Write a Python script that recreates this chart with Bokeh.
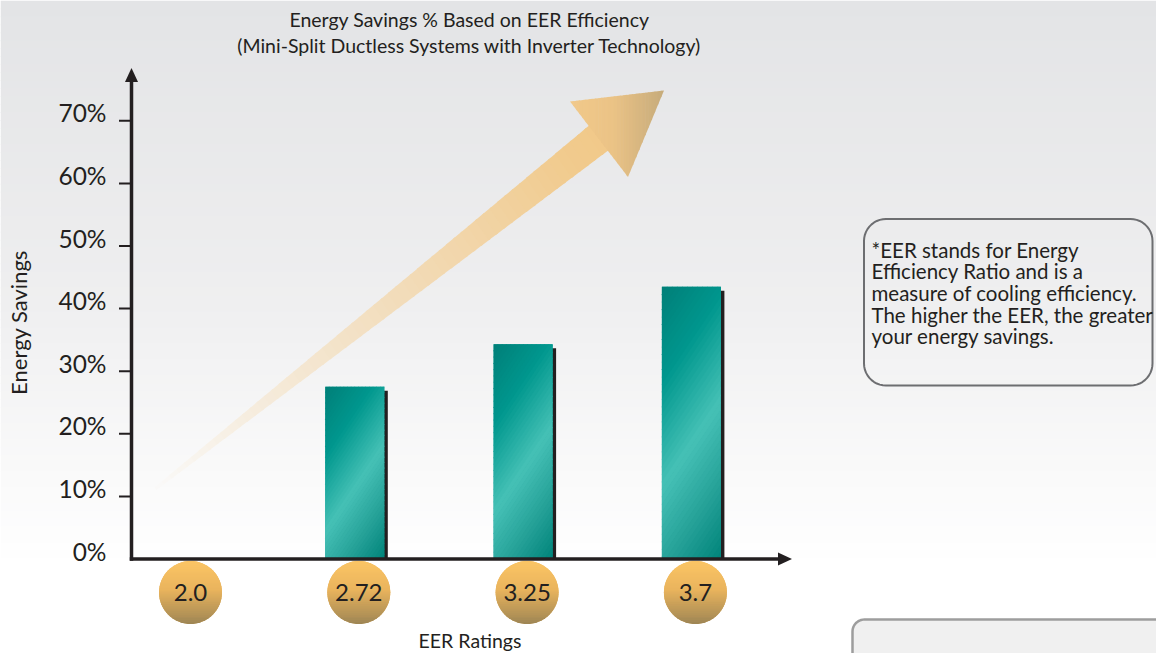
import numpy as np
from bokeh.plotting import figure
from bokeh.models import Range1d
from bokeh.core.properties import value
from bokeh.embed import file_html
from bokeh.resources import INLINE

# ---------------- data ----------------
eer_ratings = ["2.0", "2.72", "3.25", "3.7"]
energy_savings = [0.0, 27.5, 34.3, 43.5]          # percent
y_ticks = [0, 10, 20, 30, 40, 50, 60, 70]
y_tick_labels = ["0%", "10%", "20%", "30%", "40%", "50%", "60%", "70%"]
title_lines = ["Energy Savings % Based on EER Efficiency",
               "(Mini-Split Ductless Systems with Inverter Technology)"]
note_lines = ["*EER stands for Energy",
              "Efficiency Ratio and is a",
              "measure of cooling efficiency.",
              "The higher the EER, the greater",
              "your energy savings."]
x_label = "EER Ratings"
y_label = "Energy Savings"

# ---------------- layout helpers (screen px) ----------------
W, H = 1156, 653
CX0 = 186.0     # screen x of first category
CDX = 168.3     # px per category
Y0 = 558.5      # screen y of 0 %
PPY = 6.26      # px per percent


def X(sx):
    return (sx - CX0) / CDX


def Y(sy):
    return (Y0 - sy) / PPY


def SX(x):
    return CX0 + x * CDX


def SY(y):
    return Y0 - y * PPY


def h2r(h):
    h = h.lstrip("#")
    return np.array([int(h[i:i + 2], 16) for i in (0, 2, 4)], float)


def r2h(c):
    c = np.clip(np.round(c), 0, 255).astype(int)
    return "#%02x%02x%02x" % tuple(c)


def grad(stops, t):
    t = min(max(t, 0.0), 1.0)
    for (t0, c0), (t1, c1) in zip(stops[:-1], stops[1:]):
        if t <= t1:
            f = 0 if t1 == t0 else (t - t0) / (t1 - t0)
            return h2r(c0) * (1 - f) + h2r(c1) * f
    return h2r(stops[-1][1])


BG_STOPS = [(0.0, "#e3e4e6"), (0.5, "#eeeeef"), (1.0, "#ffffff")]


def bg(sy):
    return grad(BG_STOPS, sy / 565.0)


def clip(poly, a, b, c):
    out = []
    n = len(poly)
    for i in range(n):
        P = poly[i]
        Q = poly[(i + 1) % n]
        fp = a * P[0] + b * P[1] - c
        fq = a * Q[0] + b * Q[1] - c
        if fp <= 0:
            out.append(P)
        if (fp <= 0) != (fq <= 0):
            t = fp / (fp - fq)
            out.append((P[0] + t * (Q[0] - P[0]), P[1] + t * (Q[1] - P[1])))
    return out


def grad_fill(poly, d, stops, n, xs, ys, cols):
    proj = [p[0] * d[0] + p[1] * d[1] for p in poly]
    lo, hi = min(proj), max(proj)
    for k in range(n):
        a = lo + (hi - lo) * k / n
        b = lo + (hi - lo) * (k + 1) / n
        pg = clip(poly, d[0], d[1], b + (0.6 if k < n - 1 else 0))
        pg = clip(pg, -d[0], -d[1], -a)
        if len(pg) < 3:
            continue
        xs.append([X(p[0]) for p in pg])
        ys.append([Y(p[1]) for p in pg])
        cols.append(r2h(grad(stops, (k + 0.5) / n)))


def rrect(x0, y0, x1, y1, r, n=12):
    pts = []
    for cx, cy, a0, a1 in [(x1 - r, y0 + r, -90, 0), (x1 - r, y1 - r, 0, 90),
                           (x0 + r, y1 - r, 90, 180), (x0 + r, y0 + r, 180, 270)]:
        for a in np.linspace(np.radians(a0), np.radians(a1), n):
            pts.append((cx + r * np.cos(a), cy + r * np.sin(a)))
    return pts


FONT = value("Lato")
INK = "#231f20"

p = figure(width=W, height=H, x_range=Range1d(X(0), X(W)), y_range=Range1d(Y(H), Y(0)),
           output_backend="svg", toolbar_location=None, tools="",
           x_axis_type=None, y_axis_type=None, min_border=0)
p.outline_line_color = None
p.grid.visible = False
p.background_fill_color = "#ffffff"
p.border_fill_color = "#ffffff"

# ---------------- background gradient ----------------
edges = np.linspace(0, 566, 72)
p.quad(left=[X(0)] * 71, right=[X(W)] * 71,
       top=[Y(e) for e in edges[:-1]], bottom=[Y(e + 0.8) for e in edges[1:]],
       fill_color=[r2h(bg((a + b) / 2)) for a, b in zip(edges[:-1], edges[1:])],
       line_color=None)

# ---------------- rising arrow ----------------
U0, U1 = np.array([154.0, 487.0]), np.array([591.0, 123.0])
L0, L1 = np.array([156.0, 489.5]), np.array([609.0, 149.0])
ax_, ay_, ac_ = [], [], []
NS = 60
for k in range(NS):
    s0 = k / NS
    s1 = min((k + 1) / NS + 0.004, 1.0)
    quad_ = [U0 + s0 * (U1 - U0), U0 + s1 * (U1 - U0), L0 + s1 * (L1 - L0), L0 + s0 * (L1 - L0)]
    sm = (s0 + s1) / 2
    cy = (quad_[0][1] + quad_[3][1]) / 2
    col = h2r("#f7dfb9") * (1 - sm) + h2r("#f1c98a") * sm
    alpha = min(1.0, sm ** 0.75 * 1.05)
    ax_.append([X(q[0]) for q in quad_])
    ay_.append([Y(q[1]) for q in quad_])
    ac_.append(r2h(bg(cy) * (1 - alpha) + col * alpha))
p.patches(ax_, ay_, fill_color=ac_, line_color=None)

head = [(569.5, 101.0), (663.5, 90.0), (627.5, 176.5)]
hx, hy, hc = [], [], []
grad_fill(head, (1.0, 0.0), [(0.0, "#f1c98a"), (0.45, "#ebc386"), (1.0, "#c6ab7b")], 30, hx, hy, hc)
p.patches(hx, hy, fill_color=hc, line_color=None)

# ---------------- bars ----------------
idx = list(range(len(eer_ratings)))
BW = 59.0
p.vbar(x=[i + 3.5 / CDX for i in idx], top=[max(v - 4.0 / PPY, 0) for v in energy_savings],
       bottom=0, width=BW / CDX, fill_color=INK, line_color=None)
p.vbar(x=idx, top=energy_savings, bottom=0, width=BW / CDX, fill_color="#009a90", line_color=None)

BAR_STOPS = [(0.0, "#007f78"), (0.27, "#00978e"), (0.56, "#46c1b6"), (0.8, "#239f96"), (1.0, "#00847a")]
bx, by, bc = [], [], []
for i, v in zip(idx, energy_savings):
    if v <= 0:
        continue
    l, r = SX(i) - BW / 2, SX(i) + BW / 2
    t, b = SY(v), SY(0)
    grad_fill([(l, t), (r, t), (r, b), (l, b)], (0.83, 0.56), BAR_STOPS, 48, bx, by, bc)
p.patches(bx, by, fill_color=bc, line_color=None)

# ---------------- rating discs ----------------
DOFF, DY, DR = 4.0, 592.0, 31.5
p.circle(x=[i + DOFF / CDX for i in idx], y=[Y(DY)] * len(idx), radius=DR / CDX,
         fill_color="#e6b25d", line_color=None)
DISC_STOPS = [(0.0, "#fbc565"), (0.45, "#eab45d"), (1.0, "#9d8554")]
cx_, cy_, cc_ = [], [], []
for i in idx:
    ccx = SX(i) + DOFF
    circ = [(ccx + DR * np.cos(a), DY + DR * np.sin(a)) for a in np.linspace(0, 2 * np.pi, 73)[:-1]]
    grad_fill(circ, (0.0, 1.0), DISC_STOPS, 32, cx_, cy_, cc_)
p.patches(cx_, cy_, fill_color=cc_, line_color=None)
p.text(x=[i + DOFF / CDX for i in idx], y=[Y(592.0)] * len(idx), text=eer_ratings,
       text_font=FONT, text_font_size="24px", text_color=INK,
       text_align="center", text_baseline="middle")

# ---------------- axes ----------------
AXL = 131.0
p.segment(x0=[X(AXL)], y0=[Y(Y0 + 1.75)], x1=[X(AXL)], y1=[Y(80.0)], line_color=INK, line_width=3.5)
p.segment(x0=[X(AXL - 1.75)], y0=[0], x1=[X(779.0)], y1=[0], line_color=INK, line_width=3.5)
p.patch([X(AXL), X(AXL - 6.5), X(AXL + 6.5)], [Y(67.5), Y(81.5), Y(81.5)], fill_color=INK, line_color=None)
p.patch([X(791.5), X(777.5), X(777.5)], [0, Y(Y0 - 6.5), Y(Y0 + 6.5)], fill_color=INK, line_color=None)

tick_vals = [t for t in y_ticks if t > 0]
p.segment(x0=[X(118.5)] * len(tick_vals), y0=tick_vals, x1=[X(AXL)] * len(tick_vals), y1=tick_vals,
          line_color=INK, line_width=2)
p.text(x=[X(106.0)] * len(y_ticks), y=[t + 8.0 / PPY for t in y_ticks], text=y_tick_labels,
       text_font=FONT, text_font_size="24.5px", text_color=INK,
       text_align="right", text_baseline="middle")

# ---------------- labels & title ----------------
p.text(x=[X(17.5)], y=[Y(322.0)], text=[y_label], angle=np.pi / 2,
       text_font=FONT, text_font_size="22px", text_color=INK,
       text_align="center", text_baseline="middle")
p.text(x=[X(469.5)], y=[Y(639.5)], text=[x_label],
       text_font=FONT, text_font_size="19.5px", text_color=INK,
       text_align="center", text_baseline="middle")
p.text(x=[X(469.0)] * 2, y=[Y(19.0), Y(45.0)], text=title_lines,
       text_font=FONT, text_font_size="19.5px", text_color=INK,
       text_align="center", text_baseline="middle")

# ---------------- note box ----------------
box = rrect(863.5, 218.5, 1152.0, 385.0, 22)
p.patch([X(q[0]) for q in box], [Y(q[1]) for q in box], fill_alpha=0,
        line_color="#6d6e71", line_width=2)
p.text(x=[X(871.0)] * len(note_lines), y=[Y(249.0 + 21.7 * k) for k in range(len(note_lines))],
       text=note_lines, text_font=FONT, text_font_size="20.5px", text_color=INK,
       text_align="left", text_baseline="middle")

# ---------------- partial unit in lower right ----------------
dev = rrect(852.0, 619.0, 1180.0, 700.0, 12)
p.patch([X(q[0]) for q in dev], [Y(q[1]) for q in dev], fill_color="#f0f0f0",
        line_color="#9d9d9d", line_width=2.5)

open("out.html", "w").write(file_html(p, INLINE))
